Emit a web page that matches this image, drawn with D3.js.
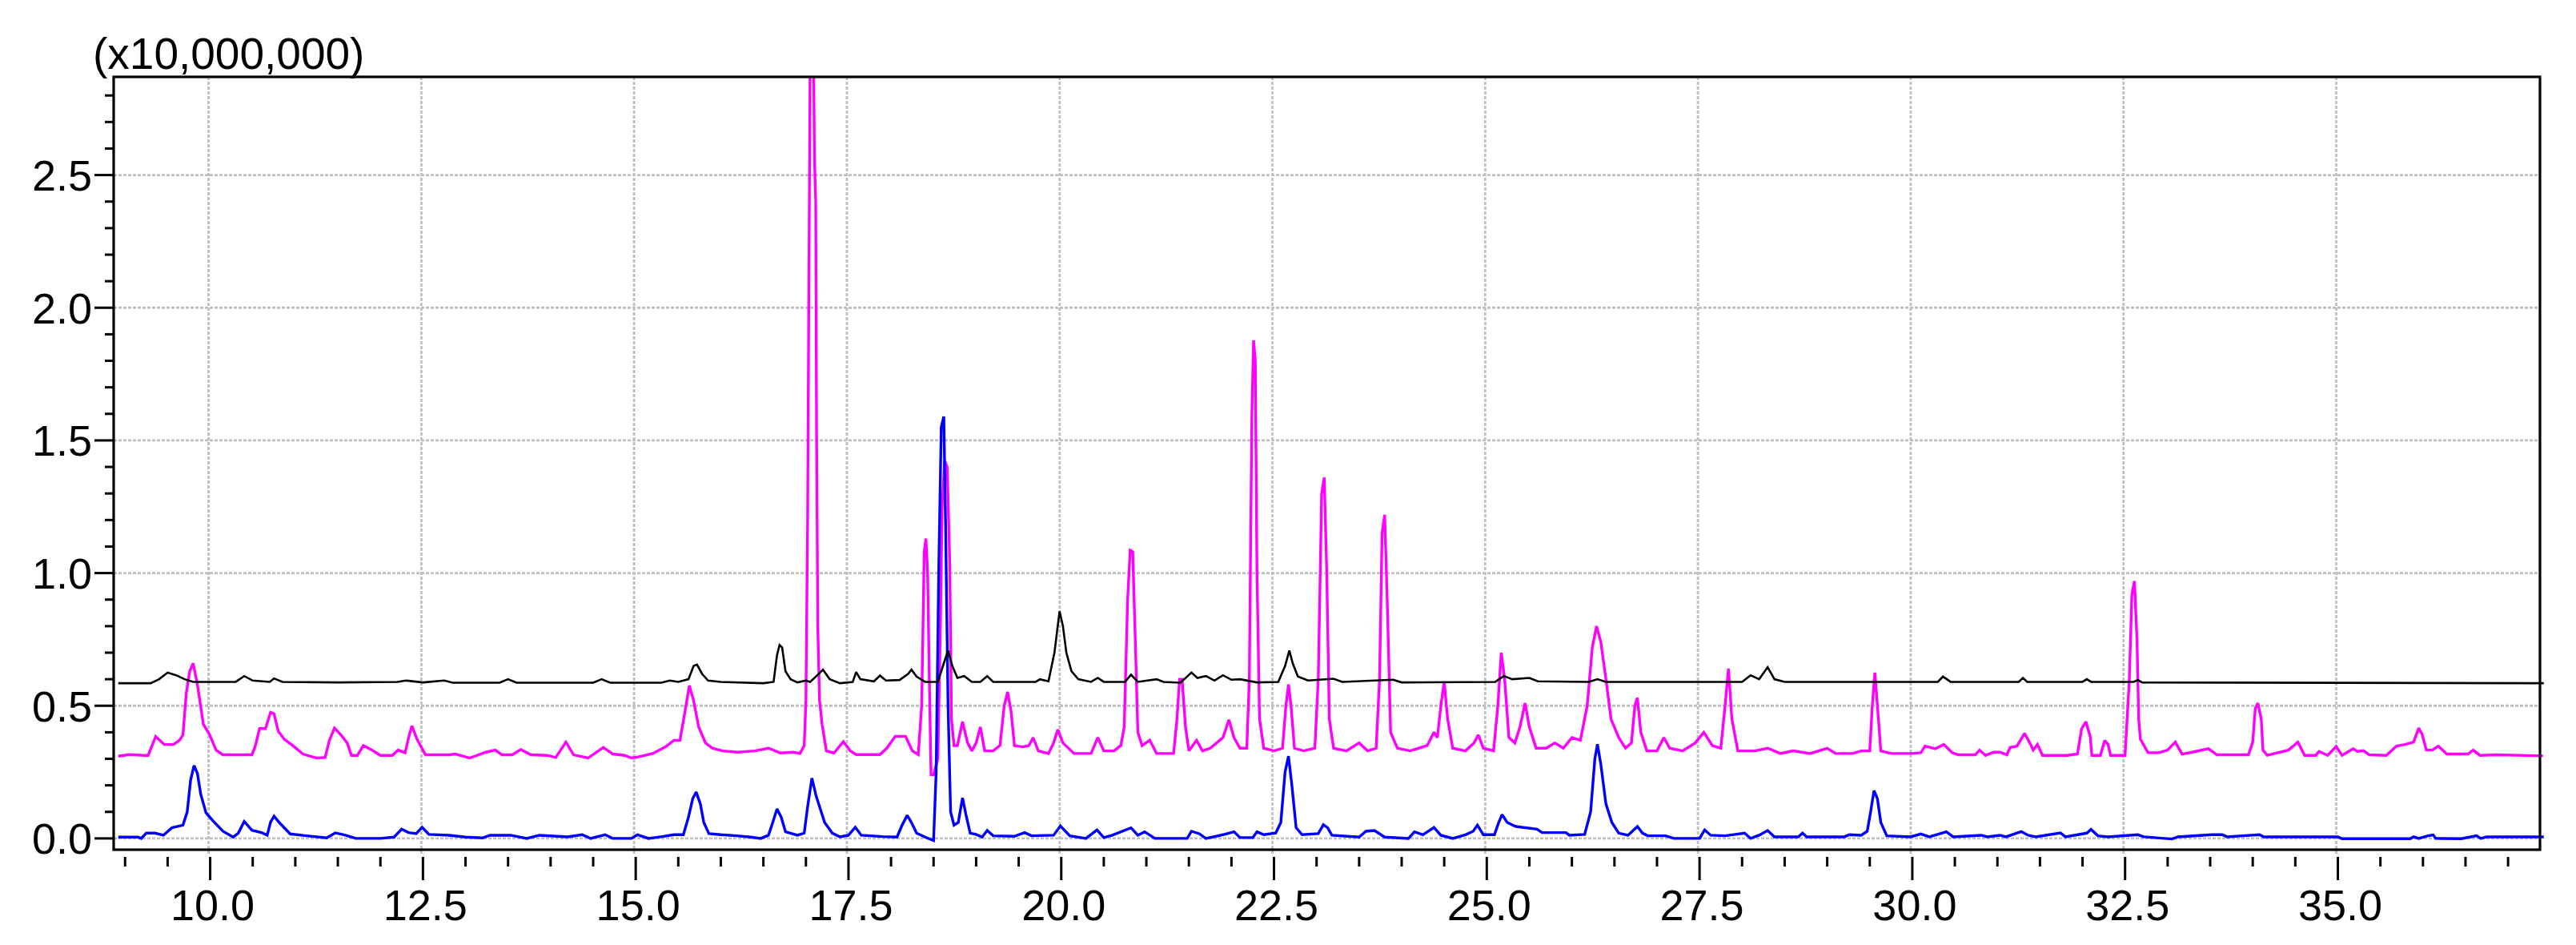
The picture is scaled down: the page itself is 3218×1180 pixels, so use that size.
<!DOCTYPE html>
<html>
<head>
<meta charset="utf-8">
<script src="https://cdnjs.cloudflare.com/ajax/libs/d3/7.8.5/d3.min.js"></script>
<style>
    body { margin: 0; background: #fff; }
    text { font-family: "Liberation Sans", Arial, sans-serif; fill: #000; }
</style>
</head>
<body>
<div id="chart"></div>
<script>

// retention time (min) / intensity (x10,000,000)
var blueTrace = [
    [8.92,0.005],[9.15,0.005],[9.19,0.0],[9.25,0.02],[9.35,0.02],[9.45,0.012],[9.55,0.04],[9.68,0.05],
    [9.73,0.10],[9.77,0.22],[9.81,0.275],[9.85,0.245],[9.89,0.165],[9.95,0.097],[10.03,0.067],[10.15,0.027],
    [10.27,0.005],[10.33,0.02],[10.40,0.064],[10.49,0.031],[10.61,0.021],[10.67,0.012],[10.71,0.062],[10.75,0.084],
    [10.82,0.057],[10.94,0.017],[11.13,0.01],[11.37,0.002],[11.47,0.021],[11.59,0.012],[11.71,0.0],[12.0,0.0],
    [12.16,0.005],[12.25,0.035],[12.33,0.022],[12.42,0.018],[12.49,0.042],[12.57,0.015],[12.81,0.012],[13.0,0.005],
    [13.2,0.002],[13.29,0.012],[13.53,0.012],[13.72,0.0],[13.87,0.012],[14.2,0.006],[14.37,0.014],[14.47,0.0],
    [14.64,0.014],[14.73,0.0],[14.95,0.0],[15.02,0.014],[15.15,0.0],[15.31,0.007],[15.45,0.014],[15.56,0.014],
    [15.62,0.08],[15.67,0.15],[15.71,0.175],[15.76,0.13],[15.80,0.06],[15.86,0.018],[16.0,0.014],[16.19,0.010],
    [16.35,0.005],[16.47,0.0],[16.56,0.012],[16.61,0.06],[16.66,0.111],[16.71,0.08],[16.76,0.025],[16.9,0.012],
    [16.98,0.02],[17.02,0.12],[17.07,0.227],[17.12,0.16],[17.17,0.11],[17.22,0.06],[17.31,0.02],[17.4,0.006],
    [17.5,0.012],[17.58,0.042],[17.65,0.012],[17.9,0.007],[18.07,0.005],[18.13,0.05],[18.19,0.087],[18.24,0.06],
    [18.3,0.02],[18.4,0.005],[18.5,-0.008],[18.53,0.25],[18.56,1.0],[18.59,1.55],[18.62,1.59],[18.64,1.2],
    [18.67,0.5],[18.70,0.1],[18.74,0.05],[18.79,0.06],[18.84,0.153],[18.88,0.09],[18.93,0.02],[19.0,0.015],
    [19.07,0.005],[19.13,0.03],[19.2,0.01],[19.45,0.008],[19.57,0.022],[19.65,0.01],[19.91,0.012],[19.99,0.047],
    [20.1,0.01],[20.29,0.0],[20.42,0.032],[20.5,0.003],[20.6,0.012],[20.82,0.04],[20.9,0.012],[20.98,0.025],
    [21.1,0.0],[21.48,0.0],[21.53,0.027],[21.62,0.018],[21.7,0.0],[21.9,0.014],[22.03,0.025],[22.1,0.003],
    [22.25,0.003],[22.30,0.025],[22.38,0.014],[22.52,0.02],[22.58,0.06],[22.63,0.25],[22.67,0.31],[22.71,0.2],
    [22.76,0.04],[22.83,0.014],[23.02,0.018],[23.08,0.052],[23.13,0.04],[23.18,0.012],[23.5,0.005],[23.58,0.027],
    [23.68,0.03],[23.8,0.005],[24.08,0.0],[24.15,0.025],[24.25,0.014],[24.38,0.041],[24.46,0.012],[24.6,0.0],
    [24.75,0.014],[24.84,0.027],[24.89,0.05],[24.96,0.014],[25.09,0.014],[25.14,0.06],[25.18,0.09],[25.24,0.06],
    [25.34,0.045],[25.59,0.035],[25.65,0.022],[25.93,0.022],[25.97,0.012],[26.15,0.015],[26.22,0.1],[26.27,0.3],
    [26.30,0.355],[26.34,0.28],[26.40,0.13],[26.47,0.06],[26.55,0.02],[26.66,0.012],[26.72,0.03],[26.77,0.045],
    [26.83,0.02],[26.89,0.01],[27.1,0.01],[27.2,0.0],[27.5,0.0],[27.56,0.032],[27.63,0.012],[27.8,0.01],
    [28.03,0.02],[28.1,0.0],[28.2,0.012],[28.3,0.03],[28.38,0.006],[28.66,0.006],[28.71,0.02],[28.76,0.006],
    [29.2,0.006],[29.26,0.014],[29.4,0.012],[29.47,0.027],[29.51,0.1],[29.55,0.18],[29.59,0.15],[29.63,0.06],
    [29.7,0.01],[29.98,0.006],[30.1,0.017],[30.2,0.006],[30.4,0.025],[30.48,0.006],[30.81,0.012],[30.88,0.006],
    [31.03,0.012],[31.1,0.006],[31.28,0.026],[31.36,0.012],[31.45,0.006],[31.74,0.021],[31.8,0.006],[32.05,0.02],
    [32.10,0.034],[32.18,0.01],[32.3,0.006],[32.65,0.014],[32.72,0.006],[33.05,-0.002],[33.12,0.006],[33.52,0.014],
    [33.64,0.014],[33.7,0.006],[34.08,0.014],[34.13,0.006],[35.0,0.006],[35.05,-0.001],[35.85,-0.001],[35.89,0.006],
    [35.95,0.0],[36.06,0.01],[36.12,0.013],[36.15,0.0],[36.45,-0.001],[36.63,0.01],[36.68,0.0],[36.75,0.006],
    [37.42,0.006]
];

var magentaTrace = [
    [8.92,0.31],[9.05,0.316],[9.27,0.312],[9.33,0.36],[9.36,0.384],[9.46,0.354],[9.57,0.354],[9.64,0.37],
    [9.68,0.39],[9.72,0.55],[9.76,0.63],[9.80,0.66],[9.85,0.58],[9.92,0.43],[9.99,0.393],[10.07,0.333],
    [10.15,0.315],[10.49,0.315],[10.53,0.348],[10.58,0.414],[10.65,0.414],[10.71,0.475],[10.75,0.47],[10.80,0.404],
    [10.87,0.374],[10.97,0.35],[11.09,0.318],[11.25,0.303],[11.35,0.305],[11.40,0.369],[11.46,0.416],[11.54,0.389],
    [11.61,0.36],[11.66,0.313],[11.73,0.313],[11.80,0.350],[11.90,0.333],[12.0,0.313],[12.14,0.313],[12.21,0.333],
    [12.29,0.323],[12.34,0.39],[12.37,0.424],[12.43,0.374],[12.53,0.315],[12.81,0.315],[12.88,0.318],[13.05,0.303],
    [13.24,0.325],[13.35,0.333],[13.43,0.315],[13.55,0.315],[13.65,0.335],[13.77,0.315],[13.96,0.313],[14.06,0.305],
    [14.18,0.363],[14.27,0.315],[14.44,0.303],[14.62,0.343],[14.73,0.318],[14.87,0.313],[14.95,0.303],[15.04,0.308],
    [15.2,0.32],[15.35,0.345],[15.45,0.37],[15.52,0.37],[15.58,0.48],[15.63,0.576],[15.68,0.52],[15.74,0.42],
    [15.82,0.36],[15.9,0.34],[16.02,0.33],[16.2,0.325],[16.40,0.33],[16.56,0.34],[16.7,0.322],[16.85,0.325],
    [16.93,0.32],[16.98,0.35],[17.0,0.52],[17.02,1.2],[17.035,2.1],[17.05,2.95],[17.09,2.95],[17.10,2.57],
    [17.115,2.4],[17.125,1.53],[17.14,0.79],[17.16,0.52],[17.19,0.43],[17.24,0.33],[17.33,0.322],[17.44,0.365],
    [17.52,0.33],[17.59,0.316],[17.87,0.316],[17.95,0.34],[18.05,0.385],[18.13,0.385],[18.17,0.385],[18.25,0.33],
    [18.32,0.316],[18.36,0.5],[18.39,1.08],[18.41,1.13],[18.43,1.0],[18.45,0.6],[18.47,0.24],[18.50,0.24],
    [18.55,0.3],[18.58,0.8],[18.60,1.25],[18.63,1.423],[18.66,1.40],[18.69,1.04],[18.71,0.45],[18.74,0.35],
    [18.78,0.35],[18.84,0.44],[18.9,0.36],[18.95,0.33],[19.0,0.36],[19.05,0.42],[19.1,0.33],[19.2,0.33],
    [19.28,0.35],[19.33,0.5],[19.37,0.552],[19.41,0.48],[19.45,0.35],[19.55,0.345],[19.62,0.35],[19.67,0.38],
    [19.73,0.33],[19.85,0.32],[19.91,0.36],[19.96,0.41],[20.02,0.36],[20.15,0.32],[20.35,0.32],[20.43,0.38],
    [20.5,0.33],[20.62,0.33],[20.70,0.35],[20.74,0.42],[20.78,0.9],[20.81,1.086],[20.84,1.08],[20.87,0.75],
    [20.9,0.4],[20.95,0.35],[21.04,0.37],[21.12,0.32],[21.32,0.32],[21.36,0.45],[21.39,0.6],[21.42,0.6],
    [21.46,0.42],[21.5,0.33],[21.59,0.37],[21.66,0.33],[21.75,0.34],[21.9,0.38],[21.97,0.447],[22.03,0.38],
    [22.1,0.34],[22.18,0.34],[22.21,0.6],[22.24,1.6],[22.26,1.877],[22.28,1.8],[22.30,1.0],[22.33,0.45],
    [22.38,0.34],[22.5,0.33],[22.6,0.34],[22.64,0.5],[22.67,0.58],[22.70,0.5],[22.74,0.34],[22.85,0.33],
    [22.98,0.34],[23.02,0.6],[23.06,1.3],[23.09,1.36],[23.12,1.0],[23.15,0.45],[23.2,0.34],[23.35,0.33],
    [23.5,0.36],[23.6,0.33],[23.7,0.34],[23.74,0.6],[23.77,1.15],[23.80,1.22],[23.83,0.9],[23.87,0.4],
    [23.95,0.34],[24.1,0.33],[24.3,0.35],[24.38,0.40],[24.42,0.38],[24.46,0.5],[24.50,0.59],[24.54,0.45],
    [24.6,0.34],[24.75,0.33],[24.85,0.36],[24.9,0.39],[24.96,0.34],[25.08,0.33],[25.13,0.5],[25.17,0.70],
    [25.21,0.6],[25.26,0.38],[25.33,0.36],[25.39,0.42],[25.45,0.51],[25.5,0.42],[25.58,0.34],[25.7,0.34],
    [25.8,0.36],[25.9,0.34],[26.0,0.38],[26.1,0.37],[26.18,0.5],[26.24,0.72],[26.29,0.80],[26.34,0.74],
    [26.4,0.6],[26.46,0.45],[26.55,0.38],[26.63,0.34],[26.7,0.36],[26.74,0.5],[26.77,0.53],[26.81,0.4],
    [26.88,0.33],[27.0,0.33],[27.08,0.38],[27.15,0.34],[27.3,0.33],[27.45,0.36],[27.55,0.40],[27.65,0.35],
    [27.75,0.34],[27.8,0.5],[27.84,0.64],[27.88,0.45],[27.95,0.33],[28.15,0.33],[28.3,0.34],[28.45,0.32],
    [28.6,0.33],[28.8,0.32],[29.0,0.34],[29.1,0.32],[29.3,0.32],[29.4,0.33],[29.5,0.33],[29.53,0.5],
    [29.56,0.625],[29.59,0.5],[29.63,0.33],[29.75,0.32],[30.0,0.32],[30.10,0.323],[30.15,0.348],[30.27,0.338],
    [30.37,0.354],[30.47,0.323],[30.54,0.315],[30.74,0.315],[30.79,0.333],[30.86,0.313],[30.96,0.325],[31.03,0.325],
    [31.11,0.315],[31.15,0.343],[31.23,0.348],[31.32,0.396],[31.39,0.354],[31.42,0.333],[31.47,0.354],[31.53,0.313],
    [31.82,0.313],[31.94,0.318],[31.99,0.414],[32.04,0.44],[32.09,0.384],[32.11,0.313],[32.21,0.313],[32.26,0.369],
    [32.30,0.354],[32.33,0.313],[32.50,0.313],[32.55,0.6],[32.58,0.92],[32.61,0.97],[32.64,0.75],[32.66,0.45],
    [32.68,0.374],[32.77,0.323],[32.90,0.323],[33.0,0.333],[33.09,0.363],[33.17,0.318],[33.29,0.325],[33.48,0.338],
    [33.58,0.315],[33.95,0.315],[34.0,0.363],[34.03,0.49],[34.06,0.51],[34.10,0.45],[34.12,0.333],[34.17,0.313],
    [34.42,0.333],[34.53,0.363],[34.61,0.313],[34.74,0.313],[34.78,0.328],[34.88,0.313],[34.98,0.346],[35.05,0.313],
    [35.18,0.338],[35.23,0.328],[35.30,0.331],[35.37,0.315],[35.57,0.313],[35.69,0.348],[35.79,0.354],[35.89,0.363],
    [35.95,0.416],[35.99,0.393],[36.04,0.333],[36.11,0.333],[36.18,0.348],[36.28,0.318],[36.53,0.318],[36.59,0.333],
    [36.67,0.313],[36.87,0.315],[37.41,0.311]
];

var blackTrace = [
    [8.92,0.585],[9.3,0.585],[9.4,0.6],[9.5,0.625],[9.6,0.615],[9.7,0.6],[9.8,0.59],[10.3,0.59],
    [10.4,0.612],[10.5,0.595],[10.7,0.59],[10.75,0.603],[10.85,0.59],[11.5,0.588],[12.2,0.59],[12.3,0.595],
    [12.5,0.588],[12.75,0.595],[12.85,0.587],[13.4,0.587],[13.5,0.6],[13.6,0.587],[14.5,0.587],[14.6,0.6],
    [14.7,0.587],[15.3,0.587],[15.4,0.595],[15.5,0.59],[15.62,0.6],[15.68,0.65],[15.72,0.655],[15.78,0.62],
    [15.85,0.595],[16.0,0.59],[16.5,0.585],[16.62,0.59],[16.66,0.69],[16.69,0.729],[16.72,0.72],[16.76,0.63],
    [16.82,0.6],[16.9,0.588],[17.0,0.595],[17.05,0.59],[17.15,0.62],[17.2,0.636],[17.28,0.6],[17.4,0.585],
    [17.55,0.59],[17.59,0.627],[17.64,0.6],[17.8,0.592],[17.87,0.614],[17.94,0.595],[18.1,0.597],[18.2,0.62],
    [18.24,0.636],[18.3,0.61],[18.4,0.59],[18.55,0.59],[18.62,0.66],[18.67,0.708],[18.72,0.65],[18.78,0.605],
    [18.86,0.612],[18.95,0.59],[19.05,0.59],[19.13,0.612],[19.2,0.59],[19.7,0.59],[19.75,0.6],[19.85,0.592],
    [19.92,0.7],[19.98,0.856],[20.02,0.8],[20.06,0.7],[20.12,0.63],[20.2,0.6],[20.35,0.59],[20.43,0.605],
    [20.5,0.59],[20.75,0.59],[20.82,0.617],[20.9,0.59],[21.12,0.6],[21.2,0.59],[21.4,0.587],[21.53,0.625],
    [21.6,0.605],[21.7,0.612],[21.8,0.595],[21.9,0.615],[22.0,0.598],[22.1,0.6],[22.3,0.588],[22.55,0.59],
    [22.63,0.65],[22.68,0.708],[22.72,0.66],[22.78,0.61],[22.9,0.595],[23.2,0.602],[23.3,0.59],[23.9,0.598],
    [24.0,0.588],[25.1,0.59],[25.2,0.612],[25.3,0.6],[25.5,0.605],[25.6,0.592],[26.2,0.59],[26.3,0.6],
    [26.4,0.59],[28.0,0.59],[28.1,0.615],[28.2,0.6],[28.3,0.645],[28.38,0.6],[28.5,0.59],[30.3,0.59],
    [30.36,0.61],[30.45,0.59],[31.25,0.59],[31.3,0.605],[31.35,0.59],[32.0,0.59],[32.05,0.6],[32.1,0.59],
    [32.6,0.59],[32.65,0.597],[32.7,0.588],[37.42,0.585]
];

var xTickValues = [10.0, 12.5, 15.0, 17.5, 20.0, 22.5, 25.0, 27.5, 30.0, 32.5, 35.0];
var yTickValues = [0.0, 0.5, 1.0, 1.5, 2.0, 2.5];
var yAxisUnit = "(x10,000,000)";

var series = [
    { name: "magenta", values: magentaTrace, color: "#ff00ff", width: 3.4 },
    { name: "blue", values: blueTrace, color: "#0000ff", width: 3.4 },
    { name: "black", values: blackTrace, color: "#000000", width: 2.6 }
];

var W = 3218, H = 1180;
var margin = { top: 96, right: 45, bottom: 119, left: 142 };
var w = W - margin.left - margin.right;
var h = H - margin.top - margin.bottom;

var svg = d3.select("#chart").append("svg")
    .attr("width", W)
    .attr("height", H);

var g = svg.append("g")
    .attr("transform", "translate(" + margin.left + "," + margin.top + ")");

var x = d3.scaleLinear().domain([8.866, 37.375]).range([0, w]);
var y = d3.scaleLinear().domain([-0.0425, 2.870]).range([h, 0]);

// dotted grid
g.append("g").selectAll("line.vgrid")
    .data(xTickValues)
    .enter().append("line")
    .attr("class", "vgrid")
    .attr("x1", function(d){ return x(d) - 2; })
    .attr("x2", function(d){ return x(d) - 2; })
    .attr("y1", 0)
    .attr("y2", h + 5)
    .style("stroke", "#c0c0c0")
    .style("stroke-width", 2.8)
    .style("stroke-dasharray", "4,2");

g.append("g").selectAll("line.hgrid")
    .data(yTickValues)
    .enter().append("line")
    .attr("class", "hgrid")
    .attr("x1", 0)
    .attr("x2", w)
    .attr("y1", function(d){ return y(d); })
    .attr("y2", function(d){ return y(d); })
    .style("stroke", "#c0c0c0")
    .style("stroke-width", 2.8)
    .style("stroke-dasharray", "4,2");

// traces, clipped at the top of the frame only
svg.append("defs").append("clipPath")
    .attr("id", "plotClip")
    .append("rect")
    .attr("x", -10)
    .attr("y", 0)
    .attr("width", w + 20)
    .attr("height", h + 10);

var line = d3.line()
    .x(function(d){ return x(d[0]); })
    .y(function(d){ return y(d[1]); });

g.append("g")
    .attr("clip-path", "url(#plotClip)")
    .selectAll("path.trace")
    .data(series)
    .enter().append("path")
    .attr("class", "trace")
    .attr("d", function(d){ return line(d.values); })
    .style("fill", "none")
    .style("stroke", function(d){ return d.color; })
    .style("stroke-width", function(d){ return d.width; })
    .style("stroke-linejoin", "miter")
    .style("stroke-miterlimit", 2);

// frame
g.append("rect")
    .attr("x", 0)
    .attr("y", 0)
    .attr("width", w)
    .attr("height", h)
    .style("fill", "none")
    .style("stroke", "#000")
    .style("stroke-width", 3.2);

// x axis: ticks hang below the frame with a small gap
var xMinor = d3.range(9.0, 37.3, 0.5).filter(function(v){
    return Math.abs(v / 2.5 - Math.round(v / 2.5)) > 1e-6;
});

var xAxis = g.append("g").attr("transform", "translate(0," + h + ")");

xAxis.selectAll("line.xminor")
    .data(xMinor)
    .enter().append("line")
    .attr("x1", function(d){ return x(d); })
    .attr("x2", function(d){ return x(d); })
    .attr("y1", 9)
    .attr("y2", 21)
    .style("stroke", "#000")
    .style("stroke-width", 3);

xAxis.selectAll("line.xmajor")
    .data(xTickValues)
    .enter().append("line")
    .attr("x1", function(d){ return x(d); })
    .attr("x2", function(d){ return x(d); })
    .attr("y1", 9)
    .attr("y2", 38)
    .style("stroke", "#000")
    .style("stroke-width", 3);

xAxis.selectAll("text")
    .data(xTickValues)
    .enter().append("text")
    .attr("x", function(d){ return x(d) + 3; })
    .attr("y", 88)
    .attr("text-anchor", "middle")
    .style("font-size", "54px")
    .text(function(d){ return d3.format(".1f")(d); });

// y axis
var yMinor = d3.range(0.1, 2.85, 0.1).filter(function(v){
    return Math.abs(v * 2 - Math.round(v * 2)) > 1e-6;
});

var yAxis = g.append("g");

yAxis.selectAll("line.yminor")
    .data(yMinor)
    .enter().append("line")
    .attr("x1", -11)
    .attr("x2", 0)
    .attr("y1", function(d){ return y(d); })
    .attr("y2", function(d){ return y(d); })
    .style("stroke", "#000")
    .style("stroke-width", 3);

yAxis.selectAll("line.ymajor")
    .data(yTickValues)
    .enter().append("line")
    .attr("x1", -24)
    .attr("x2", 0)
    .attr("y1", function(d){ return y(d); })
    .attr("y2", function(d){ return y(d); })
    .style("stroke", "#000")
    .style("stroke-width", 3);

yAxis.selectAll("text")
    .data(yTickValues)
    .enter().append("text")
    .attr("x", -27)
    .attr("y", function(d){ return y(d); })
    .attr("dy", "0.36em")
    .attr("text-anchor", "end")
    .style("font-size", "54px")
    .text(function(d){ return d3.format(".1f")(d); });

svg.append("text")
    .attr("x", 116)
    .attr("y", 86)
    .style("font-size", "55px")
    .text(yAxisUnit);

</script>
</body>
</html>
